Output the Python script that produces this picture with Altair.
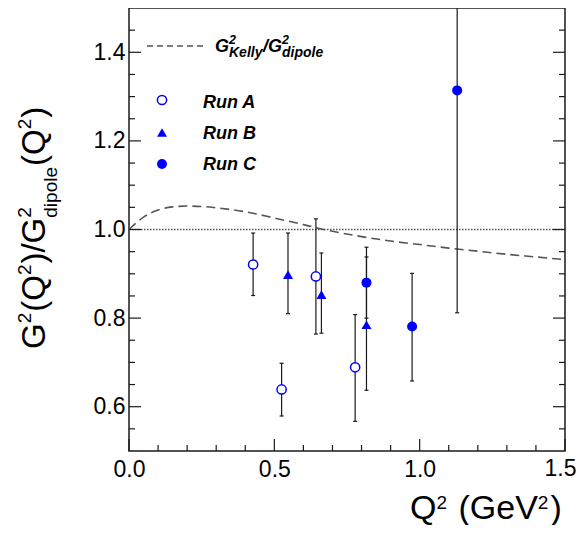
import altair as alt
import pandas as pd

# ---------------- data ----------------
runA_q = [0.427, 0.525, 0.643, 0.778]
runA_r = [0.921, 0.639, 0.894, 0.689]
runA_lo = [0.851, 0.579, 0.764, 0.567]
runA_hi = [0.992, 0.698, 1.024, 0.808]

runB_q = [0.547, 0.662, 0.817]
runB_r = [0.898, 0.853, 0.785]
runB_lo = [0.810, 0.766, 0.637]
runB_hi = [0.992, 0.947, 0.938]

runC_q = [0.817, 0.974, 1.129]
runC_r = [0.880, 0.781, 1.314]
runC_lo = [0.800, 0.658, 0.812]
runC_hi = [0.960, 0.901, 1.816]

kelly_q = [0.0, 0.05, 0.1, 0.15, 0.2, 0.25, 0.3, 0.35, 0.4, 0.5, 0.6, 0.65,
           0.7, 0.8, 0.9, 1.0, 1.1, 1.2, 1.3, 1.4, 1.5]
kelly_r = [1.0, 1.028, 1.044, 1.051, 1.053, 1.052, 1.049, 1.045, 1.040, 1.026,
           1.011, 1.003, 0.996, 0.984, 0.974, 0.966, 0.958, 0.951, 0.944, 0.938, 0.932]

unity_q = [0.0, 1.5]
unity_r = [1.0, 1.0]

x_major = [0.0, 0.5, 1.0, 1.5]
x_minor = [0.1, 0.2, 0.3, 0.4, 0.6, 0.7, 0.8, 0.9, 1.1, 1.2, 1.3, 1.4]
y_major = [0.6, 0.8, 1.0, 1.2, 1.4]
y_minor = [0.55, 0.65, 0.7, 0.75, 0.85, 0.9, 0.95, 1.05, 1.1, 1.15, 1.25, 1.3, 1.35, 1.45]

legend_runs = ["Run A", "Run B", "Run C"]

# ---------------- layout ----------------
W, H = 436, 443
FONT = "Liberation Sans"
BLUE = "#0000ff"
INK = "#1a1a1a"
LABEL_SIZE = 23

xs = alt.Scale(domain=[0, 1.5], nice=False, zero=False)
ys = alt.Scale(domain=[0.5, 1.5], nice=False, zero=False)
# the last x label sits at the page edge; it is drawn separately so it stays whole
xaxis = alt.Axis(values=x_major[:-1], format=".1f", ticks=False, tickSize=0, domain=False, grid=False,
                 labelFontSize=LABEL_SIZE, labelFont=FONT, labelColor="black", labelPadding=7,
                 labelFlush=False, title=None)
yaxis = alt.Axis(values=y_major, format=".1f", ticks=False, tickSize=0, domain=False, grid=False,
                 labelFontSize=LABEL_SIZE, labelFont=FONT, labelColor="black", labelPadding=4,
                 title=None)


def X(f):
    return alt.X(f, type="quantitative", scale=xs, axis=xaxis)


def Y(f):
    return alt.Y(f, type="quantitative", scale=ys, axis=yaxis)


def runs_df(q, r, lo, hi):
    return pd.DataFrame({"q": q, "r": r, "lo": lo, "hi": hi})


dA = runs_df(runA_q, runA_r, runA_lo, runA_hi)
dB = runs_df(runB_q, runB_r, runB_lo, runB_hi)
dC = runs_df(runC_q, runC_r, runC_lo, runC_hi)
dAll = pd.concat([dA, dB, dC], ignore_index=True)

layers = []

# Kelly / dipole curve (carries the axes)
kelly = alt.Chart(pd.DataFrame({"q": kelly_q, "r": kelly_r})).mark_line(
    color="#555555", strokeWidth=1.6, strokeDash=[9, 5], interpolate="monotone", clip=True
).encode(x=X("q"), y=Y("r"))
layers.append(kelly)

# dotted unity line
unity = alt.Chart(pd.DataFrame({"q": unity_q, "r": unity_r})).mark_line(
    color="#555555", strokeWidth=1.5, strokeDash=[1.5, 1.5]
).encode(x=X("q"), y=Y("r"))
layers.append(unity)

# error bars
err = alt.Chart(dAll).mark_rule(color=INK, strokeWidth=1.2, clip=True).encode(
    x=X("q"), y=Y("lo"), y2="hi")
layers.append(err)
for f in ["lo", "hi"]:
    cap = alt.Chart(dAll).mark_rule(color=INK, strokeWidth=1.2, clip=True, xOffset=-2, x2Offset=2).encode(
        x=X("q"), x2="q", y=Y(f))
    layers.append(cap)

# markers
layers.append(alt.Chart(dA).mark_point(shape="circle", filled=True, fill="white", stroke=BLUE,
                                       strokeWidth=1.5, size=85, opacity=1, clip=True).encode(x=X("q"), y=Y("r")))
layers.append(alt.Chart(dB).mark_point(shape="triangle-up", filled=True, color=BLUE, size=100,
                                       opacity=1, clip=True).encode(x=X("q"), y=Y("r")))
layers.append(alt.Chart(dC).mark_point(shape="circle", filled=True, color=BLUE, size=100,
                                       opacity=1, clip=True).encode(x=X("q"), y=Y("r")))

# inward ticks
TK = dict(color=INK, strokeWidth=1.2)
layers.append(alt.Chart(pd.DataFrame({"v": x_major})).mark_rule(**TK).encode(
    x=X("v"), y=alt.value(H), y2=alt.value(H - 12)))
layers.append(alt.Chart(pd.DataFrame({"v": x_minor})).mark_rule(**TK).encode(
    x=X("v"), y=alt.value(H), y2=alt.value(H - 6)))
layers.append(alt.Chart(pd.DataFrame({"v": y_major})).mark_rule(**TK).encode(
    y=Y("v"), x=alt.value(0), x2=alt.value(12)))
layers.append(alt.Chart(pd.DataFrame({"v": y_minor})).mark_rule(**TK).encode(
    y=Y("v"), x=alt.value(0), x2=alt.value(6)))
layers.append(alt.Chart(pd.DataFrame({"v": y_major})).mark_rule(**TK).encode(
    y=Y("v"), x=alt.value(W), x2=alt.value(W - 12)))
layers.append(alt.Chart(pd.DataFrame({"v": y_minor})).mark_rule(**TK).encode(
    y=Y("v"), x=alt.value(W), x2=alt.value(W - 6)))

# last x tick label, kept inside the page
ONE = pd.DataFrame({"k": [0]})
layers.append(alt.Chart(ONE).mark_text(
    text=f"{x_major[-1]:.1f}", font=FONT, fontSize=LABEL_SIZE, align="right", baseline="top", color="black"
).encode(x=alt.value(W + 11.5), y=alt.value(H + 7)))

# ---------------- text helpers ----------------
REG = {"G": 778, "Q": 778, "2": 556, "(": 333, ")": 333, "/": 278, " ": 278, "e": 556,
       "V": 667, "d": 556, "i": 222, "p": 556, "o": 556, "l": 222}
BLD = {"G": 778, "2": 556, "K": 722, "e": 556, "l": 278, "y": 556, "/": 278, "d": 611,
       "i": 278, "p": 611, "o": 611}


def tw(s, size, bold=False):
    tab = BLD if bold else REG
    return sum(tab[c] for c in s) / 1000.0 * size


def txt(s, x, y, size, angle=0, bold=False, align="left"):
    kw = dict(text=s, font=FONT, fontSize=size, align=align, baseline="alphabetic", color="black")
    if angle:
        kw["angle"] = angle
    if bold:
        kw["fontWeight"] = "bold"
        kw["fontStyle"] = "italic"
    return alt.Chart(ONE).mark_text(**kw).encode(x=alt.value(x), y=alt.value(y))


def compose(groups, x0, y0, rotated=False, bold=False, gap_after_sup=1.0):
    """groups: list of lists of (text, size, shift); pieces in one group start at the same advance."""
    out = []
    adv = 0.0
    for grp in groups:
        wmax = 0.0
        for s, size, shift in grp:
            stripped = s.lstrip(" ")
            lead = tw(s[: len(s) - len(stripped)], size, bold)
            if rotated:
                out.append(txt(stripped, x0 + shift, y0 - adv - lead, size, angle=270, bold=bold))
            else:
                out.append(txt(stripped, x0 + adv + lead, y0 + shift, size, bold=bold))
            w = tw(s, size, bold) + (gap_after_sup if shift != 0 else 0)
            wmax = max(wmax, w)
        adv += wmax
    return out


# x-axis title: Q^2 (GeV^2)
layers += compose([[("Q", 34, 0)], [("2", 19, -10)], [(" (GeV", 34, 0)], [("2", 19, -10)], [(")", 34, 0)]],
                  x0=281, y0=511, gap_after_sup=2.0)

# y-axis title: G^2(Q^2)/G^2_dipole(Q^2)
F, f = 33, 19
layers += compose([[("G", F, 0)], [("2", f, -14)], [("(Q", F, 0)], [("2", f, -14)],
                   [(")/G", F, 0)], [("2", f, -14), ("dipole", f, 12)],
                   [("(Q", F, 0)], [("2", f, -14)], [(")", F, 0)]],
                  x0=-84, y0=341, rotated=True)

# legend: Kelly curve
layers.append(alt.Chart(ONE).mark_rule(color="#555555", strokeWidth=1.6, strokeDash=[6, 4]).encode(
    x=alt.value(18), x2=alt.value(74), y=alt.value(38)))
LF = 18
layers += compose([[("G", LF, 0)], [("2", 12.5, -7.5), ("Kelly", 14, 5)], [("/G", LF, 0)],
                   [("2", 12.5, -7.5), ("dipole", 14, 5)]],
                  x0=86, y0=43.5, bold=True, gap_after_sup=0.5)

# legend: runs
layers.append(alt.Chart(ONE).mark_point(shape="circle", filled=True, fill="white", stroke=BLUE,
                                        strokeWidth=1.5, size=85, opacity=1).encode(
    x=alt.value(33), y=alt.value(92)))
layers.append(alt.Chart(ONE).mark_point(shape="triangle-up", filled=True, color=BLUE, size=100,
                                        opacity=1).encode(x=alt.value(33), y=alt.value(124.5)))
layers.append(alt.Chart(ONE).mark_point(shape="circle", filled=True, color=BLUE, size=100,
                                        opacity=1).encode(x=alt.value(33), y=alt.value(156)))
for name, yb in zip(legend_runs, [99.5, 130.5, 162]):
    layers.append(txt(name, 74, yb, LF, bold=True))

chart = alt.layer(*layers).properties(
    width=W, height=H,
    padding={"left": 121, "top": 0, "right": 12, "bottom": 74},
    autosize=alt.AutoSizeParams(type="none"),
).configure_view(stroke=INK, strokeWidth=1.5)

chart.save("out.html", embed_options={"renderer": "svg", "actions": False})
